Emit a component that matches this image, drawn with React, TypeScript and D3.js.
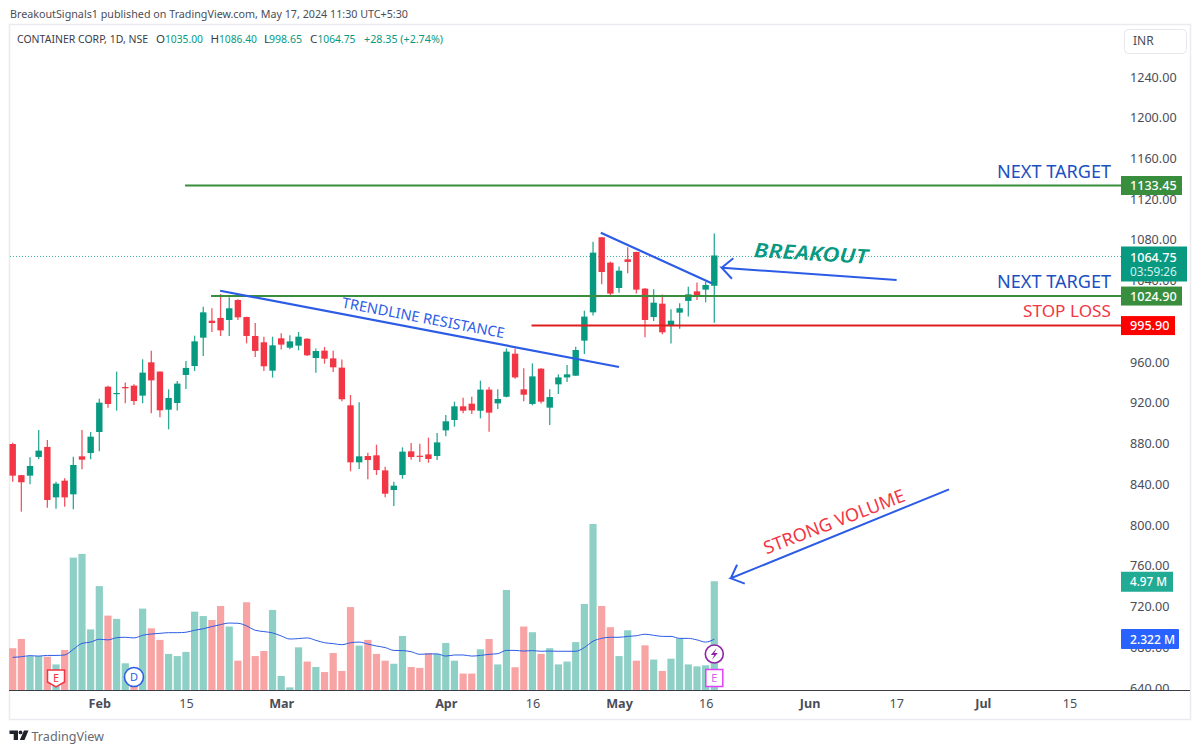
import React, { useEffect, useRef } from "react";
import * as d3 from "d3";

const opens = [879.6, 849, 848.5, 866.9, 876.7, 827.2, 843.6, 830.2, 867.5, 870.8, 891.4, 935.9, 928.7, 935.6, 936.9, 927.1, 959.8, 950.7, 913.3, 919.9, 947.4, 956.2, 984, 1000.7, 1003.4, 1001.4, 1021, 1004.3, 985.7, 979.5, 951.6, 983.4, 974.2, 976.2, 983, 964, 971.3, 963.7, 954.6, 917.6, 861.6, 867.8, 868.5, 853.7, 834.4, 849.2, 872.4, 868.1, 869.4, 867.8, 893, 903.2, 916.6, 919.2, 912.3, 933, 919.5, 926, 968.3, 933.3, 918.9, 953.6, 915.3, 938.2, 945, 946.7, 981.1, 1008.9, 1082.6, 1057.7, 1032.8, 1061, 1068.2, 1032.2, 1004.3, 1017.4, 995.5, 1008.6, 1020.1, 1029.5, 1031.2, 1035];
const highs = [880.9, 849.2, 866.6, 893.4, 883.6, 842.6, 845.9, 867.2, 893.4, 891.4, 924.1, 936.9, 950.7, 939.9, 938.2, 962.8, 971.3, 950.7, 933.3, 941.5, 961.1, 986, 1014.5, 1012.9, 1026.9, 1023.7, 1021.7, 1004.7, 998.4, 985, 985, 988.3, 986.3, 989.6, 983.4, 973.5, 974.9, 971.3, 962.7, 927.7, 920.5, 871, 878.9, 857.3, 842.6, 876.3, 880.6, 879.9, 885.8, 890.4, 908, 921.2, 925.1, 926, 941.8, 935.6, 933.3, 973.5, 973.5, 953.9, 958.8, 953.9, 933.3, 948, 957.2, 975.2, 1010.5, 1078.3, 1082.6, 1058.7, 1053.8, 1072.8, 1068.5, 1032.8, 1031.5, 1026.3, 1011.9, 1017.8, 1034.1, 1038.1, 1039, 1086.4];
const lows = [842.6, 813.2, 840, 864.6, 817.1, 816.1, 818.1, 815.5, 854.7, 864.6, 872.4, 915.3, 912.4, 919.6, 917.9, 919.6, 909.7, 905.8, 894, 912.4, 933.6, 951.3, 966, 989.6, 985.7, 985.7, 1001.4, 978.5, 965.1, 951.3, 944.8, 972.3, 972.6, 971.6, 966, 949.6, 958.5, 950.3, 921.5, 852.8, 855, 844.9, 849.2, 827.2, 818.7, 845.5, 864.2, 861.9, 861.2, 863.9, 887.1, 896.6, 909.7, 909, 904.8, 891.7, 914, 925.4, 943.8, 921.5, 917.6, 919.5, 898.3, 928.7, 940.5, 946.4, 968, 1005.7, 1036.4, 1025, 1028.2, 1047.2, 1027.3, 984.4, 1000.4, 987.3, 978.2, 992.9, 1004.7, 1021, 1018.7, 998.65];
const closes = [848.5, 842, 858, 873.1, 824.6, 840.7, 827.2, 859, 864.2, 886.8, 920.2, 918.9, 929.7, 934.3, 921.8, 949.7, 942.1, 912.7, 924.8, 938.9, 954.3, 980.4, 1008.9, 998.4, 991.2, 1012.9, 1004, 985.7, 971, 955.9, 976.5, 977.2, 980.4, 985, 966.7, 970.9, 963.4, 954.9, 923.5, 861.6, 867.5, 863.9, 854, 830.8, 838.7, 872.1, 866.8, 867.1, 864.9, 881.2, 901.9, 916.6, 912.3, 912.6, 933, 910.4, 923.8, 970.3, 945, 928, 946, 921.2, 925.7, 945, 948, 971.9, 1004.7, 1067.5, 1048.5, 1027.3, 1049.8, 1058.4, 1031.2, 1001.4, 1018.4, 989.3, 1000.7, 1012.9, 1026.6, 1025.9, 1035.8, 1064.75];

// volume in millions
const volumes = [1.91, 2.33, 1.55, 1.55, 1.52, 1.17, 1.83, 6.05, 6.22, 2.77, 4.75, 3.4, 3.25, 1.22, 0.6, 3.72, 2.82, 2.29, 1.65, 1.55, 1.74, 3.58, 3.38, 3.2, 3.84, 2.9, 1.34, 4.01, 1.55, 1.78, 3.66, 0.64, 0.12, 1.95, 1.3, 1.05, 0.82, 1.69, 0.87, 3.79, 2.03, 2.29, 1.65, 1.34, 1.2, 2.47, 1.05, 1.01, 1.68, 1.65, 2.15, 1.34, 0.75, 0.75, 1.86, 2.33, 1.17, 4.57, 1.04, 2.9, 2.64, 1.65, 1.91, 1.17, 1.3, 2.19, 3.93, 7.59, 3.84, 2.87, 1.55, 2.73, 1.34, 2.04, 1.39, 0.87, 1.43, 2.36, 1.17, 1.08, 1.13, 4.97];
const volumeDownBars = [0, 1, 4, 6, 11, 14, 16, 17, 23, 24, 26, 27, 28, 29, 34, 36, 37, 38, 39, 41, 42, 43, 46, 47, 48, 52, 53, 55, 58, 59, 61, 68, 69, 72, 73, 75];
const volumeMa = [1.49, 1.52, 1.57, 1.55, 1.58, 1.58, 1.6, 1.86, 2.13, 2.19, 2.32, 2.29, 2.39, 2.41, 2.38, 2.5, 2.56, 2.59, 2.62, 2.62, 2.64, 2.73, 2.8, 2.9, 2.99, 3.06, 3.05, 2.93, 2.73, 2.67, 2.61, 2.47, 2.33, 2.35, 2.38, 2.27, 2.16, 2.12, 2.07, 2.16, 2.19, 2.1, 2.01, 1.94, 1.81, 1.8, 1.75, 1.63, 1.65, 1.65, 1.55, 1.6, 1.6, 1.55, 1.58, 1.63, 1.66, 1.81, 1.81, 1.78, 1.8, 1.77, 1.78, 1.77, 1.77, 1.77, 1.94, 2.23, 2.36, 2.41, 2.41, 2.45, 2.48, 2.55, 2.5, 2.45, 2.45, 2.36, 2.36, 2.29, 2.19, 2.322];

// 1000.00 sits fully behind the stop loss label in the picture
const priceTicks = [640, 680, 720, 760, 800, 840, 880, 920, 960, 1040, 1080, 1120, 1160, 1200, 1240];
const timeTicks = [10, 20, 31, 50, 60, 70, 80, 92, 102, 112, 122];
const timeLabels = ["Feb", "15", "Mar", "Apr", "16", "May", "16", "Jun", "17", "Jul", "15"];
const boldTimeLabels = ["Feb", "Mar", "Apr", "May", "Jun", "Jul"];

const UP = "#089981";
const DOWN = "#f23645";
const BLUE = "#2c5ce6";
const GREEN = "#388e3c";
const GRAY = "#4a4d57";
const FONT = "'Noto Sans', sans-serif";

const hLines = [
  { price: 1133.45, from: 19.9, color: GREEN },
  { price: 1024.9, from: 22.9, color: GREEN },
  { price: 995.9, from: 59.9, color: "#e01e1e" },
];
const trendLines = [
  { from: [23.95, 1030.1], to: [70, 955.2] },
  { from: [67.9, 1087.1], to: [80.7, 1037.4] },
];
const arrows = [
  { tail: [102.05, 1040.6], tip: [81.85, 1052.7] },
  { tail: [108.1, 835.1], tip: [82.9, 747.7] },
];
const notes = [
  { text: "NEXT TARGET", bar: 126.8, price: 1141.3, color: "#1c4fc0", size: 17.5, anchor: "end", rotate: 0, len: 114 },
  { text: "NEXT TARGET", bar: 126.8, price: 1032.6, color: "#1c4fc0", size: 17.5, anchor: "end", rotate: 0, len: 114 },
  { text: "STOP LOSS", bar: 126.8, price: 1004.6, color: DOWN, size: 17, anchor: "end", rotate: 0, len: 88 },
  { text: "BREAKOUT", bar: 92.1, price: 1060, color: UP, size: 20, anchor: "middle", rotate: 3.4, len: 114, italic: true },
  { text: "TRENDLINE RESISTANCE", bar: 47.3, price: 998.5, color: BLUE, size: 14.5, anchor: "middle", rotate: 10.7, len: 165 },
  { text: "STRONG VOLUME", bar: 95.1, price: 797.5, color: DOWN, size: 18, anchor: "middle", rotate: -21, len: 150 },
];
const priceBoxes = [
  { label: "1133.45", price: 1133.45, color: GREEN, width: 61, height: 19 },
  { label: "1024.90", price: 1024.9, color: GREEN, width: 61, height: 19 },
  { label: "995.90", price: 995.9, color: "#ff0000", width: 54, height: 19 },
];
const ohlc = [
  { key: "O", keyX: 156, value: "1035.00", valueX: 165, len: 38 },
  { key: "H", keyX: 210.5, value: "1086.40", valueX: 219, len: 38 },
  { key: "L", keyX: 264, value: "998.65", valueX: 269, len: 33 },
  { key: "C", keyX: 310, value: "1064.75", valueX: 317.5, len: 38 },
];

export default function App() {
  const ref = useRef<SVGSVGElement>(null);

  useEffect(() => {
    const svg = d3.select(ref.current);
    svg.selectAll("*").remove();

    const x = d3.scaleLinear().domain([0, 81]).range([12.7, 714.3]);
    const y = d3.scaleLinear().domain([640, 1240]).range([688, 77]);
    const yVol = d3.scaleLinear().domain([0, 5]).range([690, 580.6]);
    const bars = d3.range(closes.length);

    const text = (s: string, tx: number, ty: number, size: number, fill: string, anchor = "start") =>
      svg.append("text").text(s).attr("x", tx).attr("y", ty)
        .attr("font-size", size).attr("fill", fill).attr("text-anchor", anchor).attr("font-family", FONT);
    const fitted = (s: string, tx: number, ty: number, size: number, fill: string, len: number) =>
      text(s, tx, ty, size, fill).attr("textLength", len).attr("lengthAdjust", "spacingAndGlyphs");

    // frame
    svg.append("rect").attr("x", 9.5).attr("y", 24.5).attr("width", 1181).attr("height", 695)
      .attr("fill", "#fff").attr("stroke", "#e9ebf0").attr("stroke-width", 1.5);

    const defs = svg.append("defs");
    defs.append("clipPath").attr("id", "axisClip").append("rect")
      .attr("x", 1122).attr("y", 60).attr("width", 68).attr("height", 630);

    // header
    fitted("BreakoutSignals1 published on TradingView.com, May 17, 2024 11:30 UTC+5:30", 10, 18, 11.6, GRAY, 398);
    fitted("CONTAINER CORP, 1D, NSE", 17, 43, 11.6, "#3a3d47", 131);
    ohlc.forEach((d) => {
      text(d.key, d.keyX, 43, 11.6, "#3a3d47");
      fitted(d.value, d.valueX, 43, 11.6, UP, d.len);
    });
    fitted("+28.35 (+2.74%)", 364, 43, 11.6, UP, 79);

    svg.append("rect").attr("x", 1124.5).attr("y", 29.5).attr("width", 62).attr("height", 24).attr("rx", 4)
      .attr("fill", "#fff").attr("stroke", "#e6e8ee");
    text("INR", 1133, 45, 12, GRAY);

    // price axis
    const priceAxis = svg.append("g").attr("clip-path", "url(#axisClip)").append("g")
      .attr("transform", "translate(1130,0)")
      .call(d3.axisRight(y).tickValues(priceTicks).tickFormat(d3.format(".2f") as any).tickSize(0).tickPadding(0));
    priceAxis.select(".domain").remove();
    priceAxis.selectAll("text").attr("font-size", 12.6).attr("font-family", FONT).attr("fill", GRAY);

    // time axis
    const timeAxis = svg.append("g").attr("transform", "translate(0,690)")
      .call(d3.axisBottom(x).tickValues(timeTicks).tickFormat((_, i) => timeLabels[i]).tickSize(0).tickPadding(9));
    timeAxis.select(".domain").remove();
    timeAxis.selectAll("text").attr("font-size", 12.6).attr("font-family", FONT).attr("fill", GRAY)
      .attr("font-weight", function () { return boldTimeLabels.includes(d3.select(this).text()) ? 700 : 400; });
    svg.append("line").attr("x1", 9).attr("x2", 1190).attr("y1", 690.5).attr("y2", 690.5).attr("stroke", "#3a3d47");

    // dotted last price
    svg.append("line").attr("x1", 10).attr("x2", 1121).attr("y1", y(closes[81]) + 1).attr("y2", y(closes[81]) + 1)
      .attr("stroke", UP).attr("stroke-dasharray", "1 2").attr("opacity", 0.8);

    // volume
    svg.append("g").selectAll("rect").data(bars).join("rect")
      .attr("x", (i) => x(i) - 3.6).attr("width", 7.2)
      .attr("y", (i) => yVol(volumes[i])).attr("height", (i) => yVol(0) - yVol(volumes[i]))
      .attr("fill", (i) => (volumeDownBars.includes(i) ? "#f8a3a4" : "#8fd0c6"));
    svg.append("path")
      .attr("d", d3.line<number>().x((i) => x(i)).y((i) => yVol(volumeMa[i])).curve(d3.curveMonotoneX)(bars))
      .attr("fill", "none").attr("stroke", BLUE).attr("stroke-width", 1);

    // candles
    const candle = svg.append("g").selectAll("g").data(bars).join("g")
      .attr("fill", (i) => (closes[i] >= opens[i] ? UP : DOWN))
      .attr("stroke", (i) => (closes[i] >= opens[i] ? UP : DOWN));
    candle.append("line").attr("x1", (i) => x(i)).attr("x2", (i) => x(i))
      .attr("y1", (i) => y(highs[i])).attr("y2", (i) => y(lows[i]))
      .attr("stroke-width", 1.3).attr("stroke-opacity", 0.85);
    candle.append("rect").attr("x", (i) => x(i) - 3.2).attr("width", 6.4).attr("stroke", "none")
      .attr("y", (i) => y(Math.max(opens[i], closes[i])))
      .attr("height", (i) => Math.max(1.2, Math.abs(y(opens[i]) - y(closes[i]))));

    // drawings
    const plotRight = 1121;
    hLines.forEach((d) => {
      svg.append("line").attr("x1", x(d.from)).attr("x2", plotRight).attr("y1", y(d.price)).attr("y2", y(d.price))
        .attr("stroke", d.color).attr("stroke-width", 2);
    });
    trendLines.forEach((d) => {
      svg.append("line").attr("x1", x(d.from[0])).attr("y1", y(d.from[1])).attr("x2", x(d.to[0])).attr("y2", y(d.to[1]))
        .attr("stroke", BLUE).attr("stroke-width", 2.2);
    });
    arrows.forEach((d) => {
      const tx = x(d.tip[0]), ty = y(d.tip[1]);
      const angle = Math.atan2(y(d.tail[1]) - ty, x(d.tail[0]) - tx);
      const wing = (a: number) => `L${tx + 15 * Math.cos(angle + a)},${ty + 15 * Math.sin(angle + a)}`;
      svg.append("path")
        .attr("d", `M${x(d.tail[0])},${y(d.tail[1])}L${tx},${ty}${wing(0.75)}M${tx},${ty}${wing(-0.75)}`)
        .attr("fill", "none").attr("stroke", BLUE).attr("stroke-width", 2);
    });
    notes.forEach((d) => {
      const t = text(d.text, 0, 0, d.size, d.color, d.anchor)
        .attr("transform", `translate(${x(d.bar)},${y(d.price)}) rotate(${d.rotate})`)
        .attr("textLength", d.len).attr("lengthAdjust", "spacingAndGlyphs");
      if (d.italic) t.attr("font-style", "italic").attr("font-weight", 600);
    });

    // event marks
    const markY = 678;
    svg.append("path")
      .attr("d", `M${x(5) - 8.5},${markY - 8}h17v12l-8.5,5l-8.5,-5z`)
      .attr("fill", "#fff").attr("stroke", DOWN).attr("stroke-width", 1.5);
    text("E", x(5), markY + 4, 11, DOWN, "middle");
    svg.append("circle").attr("cx", x(14)).attr("cy", markY - 1).attr("r", 9.5)
      .attr("fill", "#fff").attr("stroke", BLUE).attr("stroke-width", 1.6);
    text("D", x(14), markY + 3, 11, BLUE, "middle");
    svg.append("circle").attr("cx", x(81)).attr("cy", 654).attr("r", 9)
      .attr("fill", "#fff").attr("stroke", "#8e24aa").attr("stroke-width", 1.6);
    svg.append("path").attr("d", `M${x(81) + 2.5},${648}l-6,7h3.5l-2.5,5l6,-7h-3.5z`).attr("fill", "#8e24aa");
    svg.append("rect").attr("x", x(81) - 8.5).attr("y", 669.5).attr("width", 17).attr("height", 17)
      .attr("fill", "#fff").attr("stroke", "#e040fb").attr("stroke-width", 1.5);
    text("E", x(81), markY + 4, 11, "#d65fe8", "middle");

    // price labels on the axis
    priceBoxes.forEach((d) => {
      svg.append("rect").attr("x", 1121).attr("y", y(d.price) - d.height / 2).attr("width", d.width).attr("height", d.height)
        .attr("fill", d.color);
      text(d.label, 1130, y(d.price) + 4.5, 12.6, "#fff").attr("font-weight", 500);
    });
    svg.append("rect").attr("x", 1121).attr("y", 246.5).attr("width", 66).attr("height", 35).attr("fill", UP);
    text("1064.75", 1130, 261.5, 12.6, "#fff").attr("font-weight", 500);
    text("03:59:26", 1130, 276, 11.8, "#d4f0ea");
    svg.append("rect").attr("x", 1121).attr("y", yVol(4.97) - 9.5).attr("width", 52).attr("height", 20).attr("fill", "#22ab94");
    fitted("4.97 M", 1130, yVol(4.97) + 5, 12.6, "#fff", 37).attr("font-weight", 500);
    svg.append("rect").attr("x", 1121).attr("y", 629).attr("width", 58).attr("height", 20).attr("rx", 1).attr("fill", "#2962ff");
    fitted("2.322 M", 1130, 644, 12.6, "#fff", 45).attr("font-weight", 500);

    // footer logo
    const logo = svg.append("g").attr("transform", "translate(9.5,730.5)").attr("fill", "#1f222b");
    logo.append("path").attr("d", "M0 0h8.5v9.5H4.2V3.6H0z");
    logo.append("circle").attr("cx", 11).attr("cy", 1.9).attr("r", 1.9);
    logo.append("path").attr("d", "M14.5 0H19L15 9.5H10.3z");
    text("TradingView", 31.5, 741, 12.6, "#666a75");
  }, []);

  return <svg ref={ref} width={1200} height={753} style={{ position: "absolute", left: 0, top: 0, background: "#fff" }} />;
}
